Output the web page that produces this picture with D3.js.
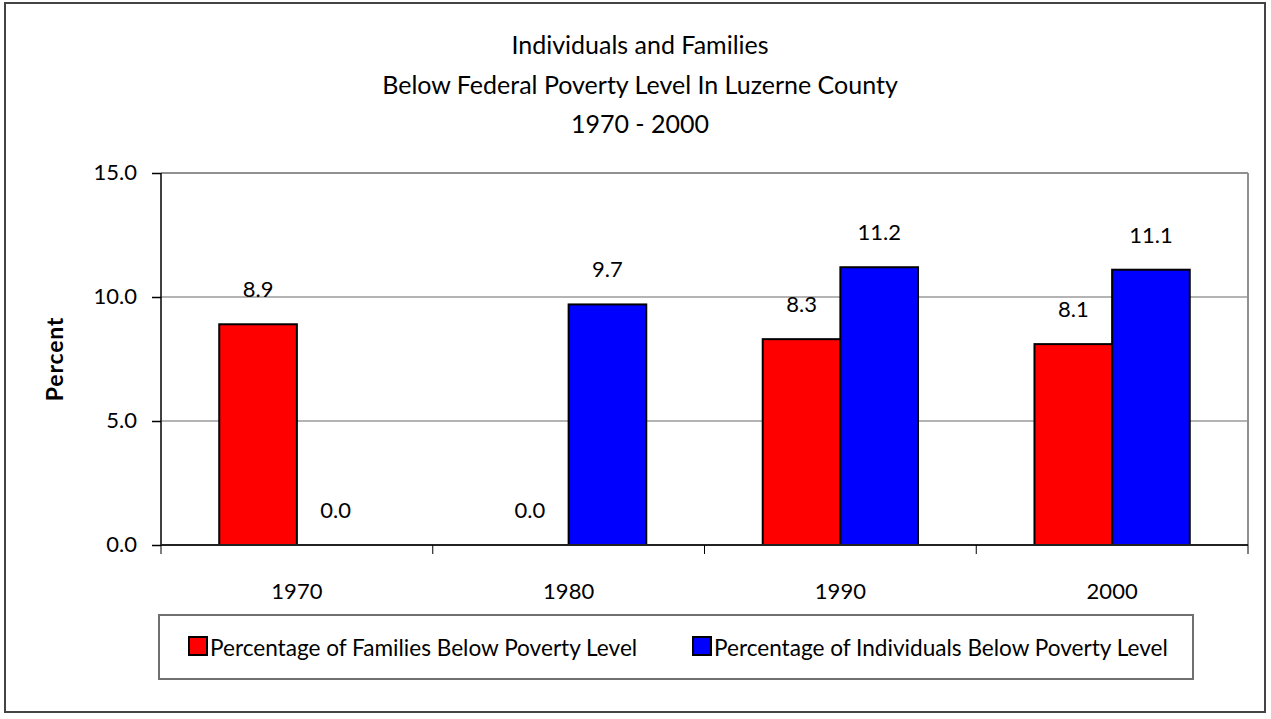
<!DOCTYPE html>
<html>
<head>
<meta charset="utf-8">
<script src="https://cdn.jsdelivr.net/npm/d3@7"></script>
<style>
  body { margin: 0; background: #fff; }
  svg text { font-family: "Lato", "Open Sans", sans-serif; fill: #000; }
</style>
</head>
<body>
<div id="chart"></div>
<script>
// data
var years = ["1970", "1980", "1990", "2000"];
var seriesNames = ["Percentage of Families Below Poverty Level", "Percentage of Individuals Below Poverty Level"];
var families = [8.9, 0.0, 8.3, 8.1];
var individuals = [0.0, 9.7, 11.2, 11.1];
var yTicks = [0, 5, 10, 15];
var titleLines = ["Individuals and Families", "Below Federal Poverty Level In Luzerne County", "1970 - 2000"];
var colors = ["#ff0000", "#0000ff"];

var width = 1271, height = 719;
var margin = { left: 161, right: 23, top: 173, bottom: 174 }; // plot area 161..1248, 173..545

var svg = d3.select('#chart').append('svg')
  .attr('width', width)
  .attr('height', height);

// outer frame
svg.append('rect')
  .attr('x', 5).attr('y', 3)
  .attr('width', 1260).attr('height', 709)
  .attr('fill', '#fff')
  .attr('stroke', '#444').attr('stroke-width', 2);

var x = d3.scaleBand()
  .domain(years)
  .range([margin.left, width - margin.right]);

var x1 = d3.scaleBand()
  .domain(seriesNames)
  .range([0, x.bandwidth()])
  .paddingInner(0)
  .paddingOuter(0.75);

var y = d3.scaleLinear()
  .domain([0, 15])
  .range([height - margin.bottom, margin.top]);

// grid lines
svg.append('g')
  .selectAll('line')
  .data(yTicks.filter(function(d) { return d > 0; }))
  .enter().append('line')
  .attr('x1', margin.left).attr('x2', width - margin.right)
  .attr('y1', function(d) { return y(d); })
  .attr('y2', function(d) { return y(d); })
  .attr('stroke', function(d) { return d === 15 ? '#909090' : '#6a6a6a'; })
  .attr('stroke-width', function(d) { return d === 15 ? 2 : 1.2; });

// right border of plot
svg.append('line')
  .attr('x1', width - margin.right).attr('x2', width - margin.right)
  .attr('y1', y(15)).attr('y2', y(0))
  .attr('stroke', '#909090').attr('stroke-width', 2);

// bars
var table = years.map(function(yr, i) {
  return { year: yr, values: [families[i], individuals[i]] };
});

var groups = svg.append('g').selectAll('g')
  .data(table)
  .enter().append('g')
  .attr('transform', function(d) { return 'translate(' + x(d.year) + ',0)'; });

groups.selectAll('rect')
  .data(function(d) { return d.values.map(function(v, j) { return { name: seriesNames[j], value: v, j: j }; }); })
  .enter().append('rect')
  .filter(function(d) { return d.value > 0; })
  .attr('x', function(d) { return x1(d.name); })
  .attr('y', function(d) { return y(d.value); })
  .attr('width', x1.bandwidth())
  .attr('height', function(d) { return y(0) - y(d.value); })
  .attr('fill', function(d) { return colors[d.j]; })
  .attr('stroke', '#000').attr('stroke-width', 2);

// value labels
groups.selectAll('text')
  .data(function(d) { return d.values.map(function(v, j) { return { name: seriesNames[j], value: v }; }); })
  .enter().append('text')
  .attr('x', function(d) { return x1(d.name) + x1.bandwidth() / 2; })
  .attr('y', function(d) { return y(d.value) - 27; })
  .attr('text-anchor', 'middle')
  .style('font-size', '22px')
  .text(function(d) { return d3.format('.1f')(d.value); });

// y axis
var yAxis = svg.append('g')
  .attr('transform', 'translate(' + margin.left + ',0)')
  .call(d3.axisLeft(y).tickValues(yTicks).tickFormat(d3.format('.1f')).tickSize(9).tickPadding(15));
yAxis.selectAll('text').style('font-size', '22px').attr('dy', '0.3em');
yAxis.selectAll('line, path').attr('stroke', '#000').attr('stroke-width', 1.5);
yAxis.select('.domain').attr('d', 'M0,' + y(15) + 'V' + y(0));

// x axis
var xAxis = svg.append('g')
  .attr('transform', 'translate(0,' + y(0) + ')')
  .call(d3.axisBottom(x).tickSize(0));
xAxis.selectAll('text').style('font-size', '22px').attr('y', 54).attr('dy', 0);
xAxis.select('.domain').attr('stroke', '#222').attr('stroke-width', 2)
  .attr('d', 'M' + margin.left + ',0H' + (width - margin.right));
xAxis.selectAll('.boundary')
  .data(years.concat(['end']))
  .enter().append('line')
  .attr('class', 'boundary')
  .attr('x1', function(d, i) { return i < years.length ? x(d) : x.range()[1]; })
  .attr('x2', function(d, i) { return i < years.length ? x(d) : x.range()[1]; })
  .attr('y1', 0).attr('y2', 9)
  .attr('stroke', '#000').attr('stroke-width', 1);

// y axis title
svg.append('text')
  .attr('transform', 'translate(63,' + ((y(0) + y(15)) / 2) + ') rotate(-90)')
  .attr('text-anchor', 'middle')
  .style('font-size', '23px')
  .style('font-weight', 'bold')
  .style('letter-spacing', '0.8px')
  .text('Percent');

// title
svg.append('g').selectAll('text')
  .data(titleLines)
  .enter().append('text')
  .attr('x', 640)
  .attr('y', function(d, i) { return 54 + i * 39.5; })
  .attr('text-anchor', 'middle')
  .style('font-size', '25px')
  .text(function(d) { return d; });

// legend
var legend = svg.append('g');
legend.append('rect')
  .attr('x', 159).attr('y', 615)
  .attr('width', 1034).attr('height', 64)
  .attr('fill', '#fff').attr('stroke', '#707070').attr('stroke-width', 2);

var legendX = [189, 693];
var item = legend.selectAll('.item')
  .data(seriesNames)
  .enter().append('g')
  .attr('class', 'item')
  .attr('transform', function(d, i) { return 'translate(' + legendX[i] + ',637)'; });

item.append('rect')
  .attr('width', 18).attr('height', 18)
  .attr('fill', function(d, i) { return colors[i]; })
  .attr('stroke', '#000').attr('stroke-width', 2);

item.append('text')
  .attr('x', 21).attr('y', 19)
  .style('font-size', '22.6px')
  .text(function(d) { return d; });
</script>
</body>
</html>
